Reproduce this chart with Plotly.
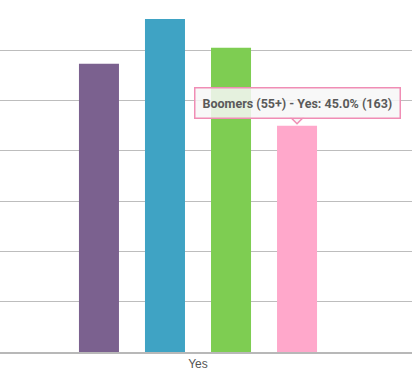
import plotly.graph_objects as go

categories = ["Yes"]
series_names = ["Gen Z (18-24)", "Millennials (25-39)", "Gen X (40-54)", "Boomers (55+)"]
series_values = [[57.3], [66.2], [60.5], [45.0]]
series_counts = [[None], [None], [None], [163]]
series_colors = ["#7b618f", "#3fa3c4", "#7ecd52", "#ffa8cb"]
y_ticks = [0, 10, 20, 30, 40, 50, 60, 70]

W, H = 412, 384
bargap = 0.359
bargroupgap = 0.394
center_px = 198  # category centre in plot pixels
x_range = [-center_px / W, 1 - center_px / W]

fig = go.Figure()
for name, vals, col in zip(series_names, series_values, series_colors):
    fig.add_trace(go.Bar(x=categories, y=vals, name=name, marker=dict(color=col, line=dict(width=0))))

# tooltip for the last series
n = len(series_names)
idx = n - 1
slot = (1 - bargap) / n
x_tip = (idx + 0.5) * slot - (1 - bargap) / 2
y_tip = series_values[idx][0]
tip_text = f"{series_names[idx]} - {categories[0]}: {y_tip:.1f}% ({series_counts[idx][0]})"

fig.add_annotation(
    x=x_tip, y=y_tip, xref="x", yref="y", text=f"<b>{tip_text}</b>",
    showarrow=False, xanchor="center", yanchor="bottom", yshift=7,
    font=dict(family="Roboto", size=12.5, color="#5a5a5a"),
    bgcolor="rgba(247,247,247,0.85)", bordercolor="#f08db5", borderwidth=1.5, borderpad=7,
)
fig.add_shape(
    type="path", xref="x", yref="y", xsizemode="pixel", ysizemode="pixel",
    xanchor=x_tip, yanchor=y_tip, path="M -6,8 L 6,8 L 0,2 Z",
    fillcolor="#f7f7f7", line=dict(color="#f08db5", width=1.5), layer="above",
)
fig.add_shape(
    type="path", xref="x", yref="y", xsizemode="pixel", ysizemode="pixel",
    xanchor=x_tip, yanchor=y_tip, path="M -5,9.5 L 5,9.5 L 5,8 L -5,8 Z",
    fillcolor="#f7f7f7", line=dict(width=0), layer="above",
)

fig.update_layout(
    width=W, height=H,
    margin=dict(l=0, r=0, t=0, b=32),
    paper_bgcolor="white", plot_bgcolor="white",
    barmode="group", bargap=bargap, bargroupgap=bargroupgap,
    showlegend=False,
    font=dict(family="Liberation Sans, Arial", size=12, color="#555555"),
    xaxis=dict(type="category", range=x_range, showgrid=False, showline=True,
               linecolor="#b8b8b8", linewidth=1.5, ticks="", tickfont=dict(size=12, color="#555555")),
    yaxis=dict(range=[0, 70], tickvals=y_ticks, showticklabels=False, showgrid=True,
               gridcolor="#bdbdbd", gridwidth=1, zeroline=False),
)

fig.write_html("out.html")
